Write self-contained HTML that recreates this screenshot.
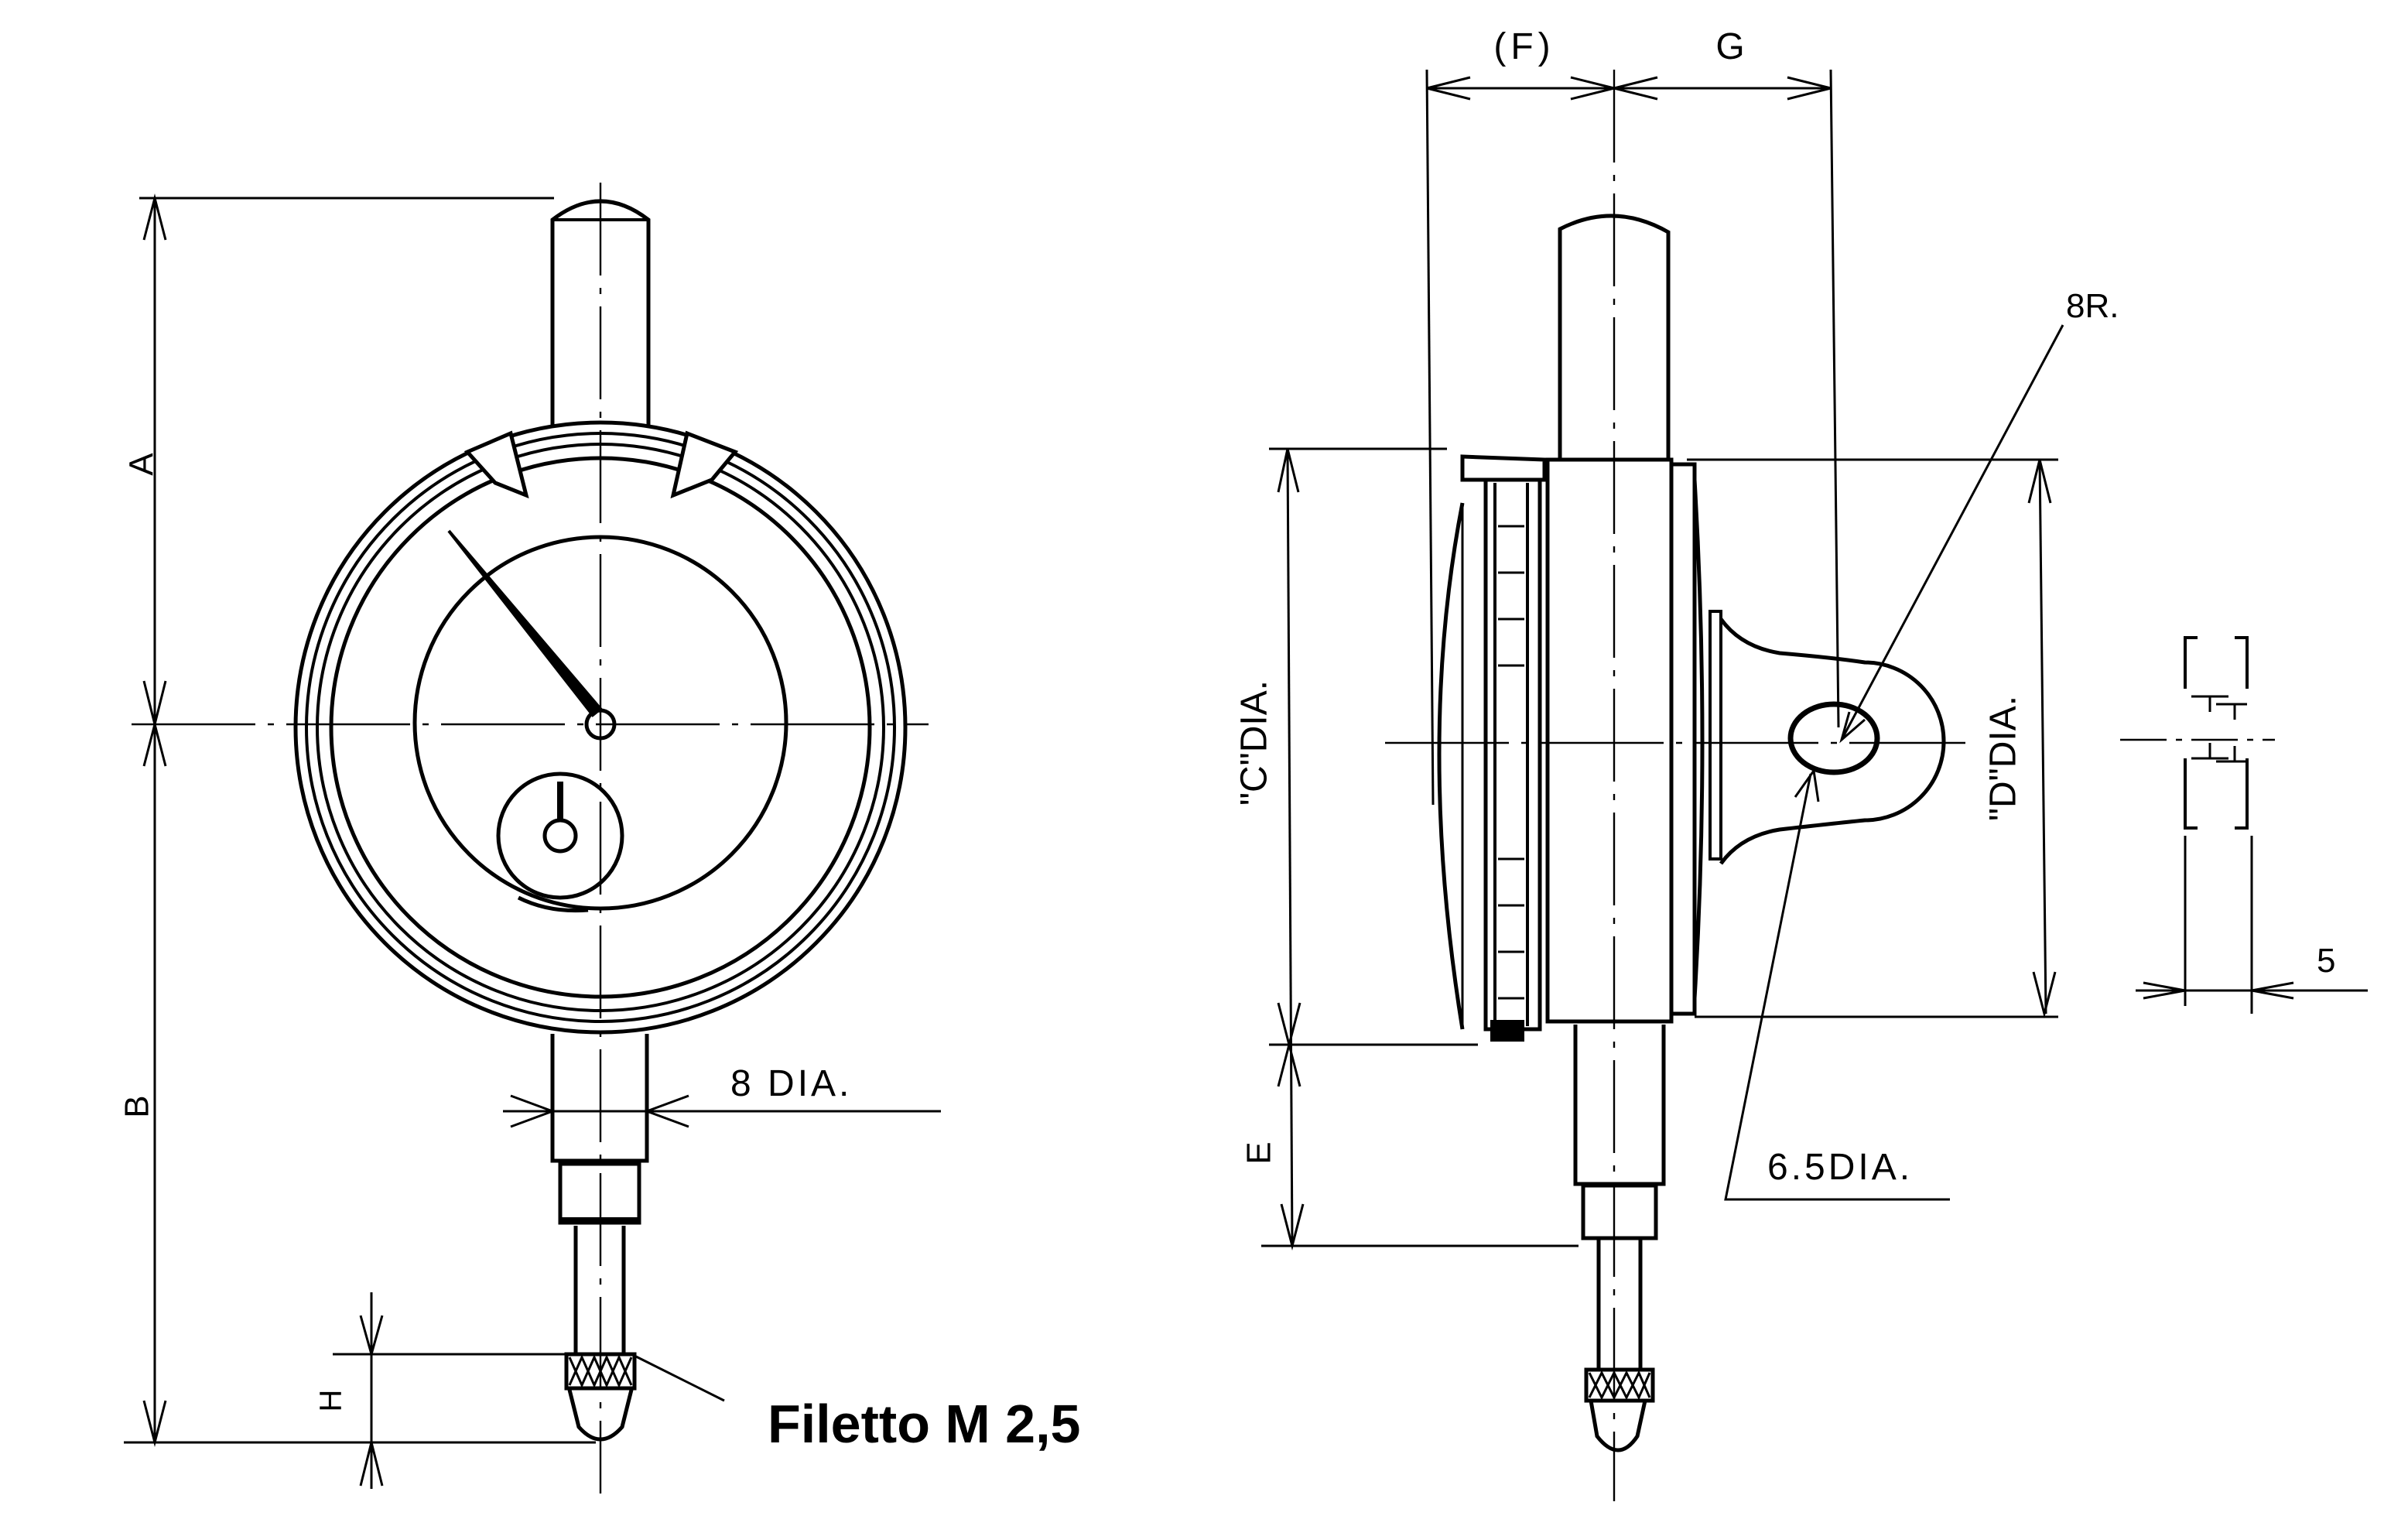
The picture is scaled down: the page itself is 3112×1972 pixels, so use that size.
<!DOCTYPE html>
<html><head><meta charset="utf-8"><style>
html,body{margin:0;padding:0;background:#fff;}
svg{display:block;}
text{font-family:"Liberation Sans",sans-serif;fill:#000;}
</style></head><body>
<svg width="3112" height="1972" viewBox="0 0 1556 986" xmlns="http://www.w3.org/2000/svg">
<g fill="none" stroke="#000" stroke-width="2">
<!-- LEFT VIEW -->
<line x1="388" y1="118" x2="388" y2="965" stroke-width="1.2" stroke-dasharray="60 8 4 8"/>
<line x1="85" y1="468" x2="600" y2="468" stroke-width="1.2" stroke-dasharray="80 8 4 8"/>
<circle cx="388" cy="470" r="197" stroke-width="2.5"/>
<circle cx="388" cy="470" r="190"/>
<circle cx="388" cy="470" r="183"/>
<circle cx="388" cy="470" r="174" stroke-width="2.5"/>
<circle cx="388" cy="467" r="120" stroke-width="2.5"/>
<circle cx="362" cy="540" r="40" stroke-width="2.5"/>
<circle cx="362" cy="540" r="10" stroke-width="2.5"/>
<line x1="362" y1="505" x2="362" y2="530" stroke-width="4"/>
<path d="M335 580 Q355 590 380 588" stroke-width="2.5"/>
<circle cx="388" cy="468" r="9" stroke-width="2.5"/>
<path d="M290 343 L383 462 L388 458 Z" fill="#000"/>
<!-- top stem -->
<path d="M357 276 L357 142 Q388 118 419 142 L419 276" stroke-width="2.5"/>
<line x1="357" y1="142" x2="419" y2="142"/>
<!-- lugs -->
<path d="M302 292 L330 280 L340 320 L320 312 Z" fill="#fff" stroke-width="2.5"/>
<path d="M444 280 L475 292 L460 310 L435 320 Z" fill="#fff" stroke-width="2.5"/>
<!-- bottom stem -->
<path d="M357 668 L357 750 L418 750 L418 668" stroke-width="2.5"/>
<rect x="362" y="752" width="51" height="38" stroke-width="2.5"/>
<line x1="362" y1="788" x2="413" y2="788" stroke-width="3"/>
<path d="M372 792 L372 875 M403 792 L403 875" stroke-width="2.5"/>
<rect x="366" y="875" width="44" height="22" stroke-width="2.5"/>
<path d="M368 877 L376 895 L384 877 L392 895 L400 877 L408 895 M368 895 L376 877 L384 895 L392 877 L400 895 L408 877" stroke-width="1.5"/>
<path d="M368 898 L374 922 Q388 938 402 922 L408 898" stroke-width="2.5"/>
<!-- dims -->
<line x1="100" y1="128" x2="100" y2="932" stroke-width="1.5"/>
<line x1="90" y1="128" x2="358" y2="128" stroke-width="1.5"/>
<line x1="80" y1="932" x2="385" y2="932" stroke-width="1.5"/>
<path d="M93 155 L100 128 L107 155 M93 440 L100 468 L107 440 M93 495 L100 468 L107 495 M93 905 L100 932 L107 905" stroke-width="1.5"/>
<line x1="240" y1="835" x2="240" y2="962" stroke-width="1.5"/>
<line x1="215" y1="875" x2="366" y2="875" stroke-width="1.5"/>
<path d="M233 850 L240 875 L247 850 M233 960 L240 932 L247 960" stroke-width="1.5"/>
<line x1="325" y1="718" x2="608" y2="718" stroke-width="1.5"/>
<path d="M330 708 L357 718 L330 728 M445 708 L418 718 L445 728" stroke-width="1.5"/>
<line x1="410" y1="876" x2="468" y2="905" stroke-width="1.5"/>

<!-- RIGHT VIEW -->
<line x1="1043" y1="45" x2="1043" y2="970" stroke-width="1.2" stroke-dasharray="60 8 4 8"/>
<line x1="895" y1="480" x2="1270" y2="480" stroke-width="1.2" stroke-dasharray="80 8 4 8"/>
<line x1="922" y1="57" x2="1183" y2="57" stroke-width="1.5"/>
<path d="M950 50 L922 57 L950 64 M1015 50 L1043 57 L1015 64 M1071 50 L1043 57 L1071 64 M1155 50 L1183 57 L1155 64" stroke-width="1.5"/>
<line x1="922" y1="45" x2="926" y2="520" stroke-width="1.5"/>
<line x1="1183" y1="45" x2="1188" y2="470" stroke-width="1.5"/>
<path d="M1008 297 L1008 148 Q1043 130 1078 150 L1078 297" stroke-width="2.5"/>
<rect x="1000" y="297" width="80" height="363" stroke-width="2.5"/>
<path d="M1080 300 L1095 300 L1095 655 L1080 655" stroke-width="2.5"/>
<path d="M1095 310 Q1105 480 1095 645" stroke-width="2.5"/>
<path d="M1105 395 L1105 555 L1112 555 L1112 395 Z" stroke-width="2"/>
<path d="M1112 400 Q1125 418 1150 422 Q1185 425 1205 428 A48 48 0 0 1 1205 530 Q1185 532 1150 536 Q1125 540 1112 558" stroke-width="2.5"/>
<ellipse cx="1185" cy="477" rx="28" ry="22" stroke-width="3.5"/>
<!-- bezel -->
<path d="M945 295 L998 297 L998 310 L945 310 Z" stroke-width="2.5"/>
<rect x="960" y="310" width="35" height="355" stroke-width="2.5"/>
<line x1="966" y1="312" x2="966" y2="663"/>
<line x1="987" y1="312" x2="987" y2="663"/>
<path d="M968 340 L985 340 M968 370 L985 370 M968 400 L985 400 M968 430 L985 430 M968 555 L985 555 M968 585 L985 585 M968 615 L985 615 M968 645 L985 645" stroke-width="1.5"/>
<rect x="964" y="660" width="20" height="12" fill="#000"/>
<path d="M945 325 Q915 480 945 665" stroke-width="2.5"/>
<line x1="945" y1="325" x2="945" y2="665" stroke-width="1.5"/>
<!-- lower stem -->
<path d="M1018 662 L1018 765 L1075 765 L1075 662" stroke-width="2.5"/>
<rect x="1023" y="766" width="47" height="34" stroke-width="2.5"/>
<path d="M1033 800 L1033 885 M1060 800 L1060 885" stroke-width="2.5"/>
<rect x="1025" y="885" width="43" height="20" stroke-width="2.5"/>
<path d="M1027 887 L1035 903 L1043 887 L1051 903 L1059 887 L1066 903 M1027 903 L1035 887 L1043 903 L1051 887 L1059 903 L1066 887" stroke-width="1.5"/>
<path d="M1028 905 L1032 928 Q1046 946 1058 928 L1063 905" stroke-width="2.5"/>
<!-- C/E dims -->
<line x1="832" y1="290" x2="835" y2="805" stroke-width="1.5"/>
<line x1="820" y1="290" x2="935" y2="290" stroke-width="1.5"/>
<line x1="820" y1="675" x2="955" y2="675" stroke-width="1.5"/>
<line x1="815" y1="805" x2="1020" y2="805" stroke-width="1.5"/>
<path d="M826 318 L832 290 L839 318 M826 648 L833 675 L840 648 M826 702 L833 675 L840 702 M828 778 L835 805 L842 778" stroke-width="1.5"/>
<!-- D dims -->
<line x1="1318" y1="297" x2="1322" y2="655" stroke-width="1.5"/>
<line x1="1090" y1="297" x2="1330" y2="297" stroke-width="1.5"/>
<line x1="1095" y1="657" x2="1330" y2="657" stroke-width="1.5"/>
<path d="M1311 325 L1318 297 L1325 325 M1314 628 L1321 655 L1328 628" stroke-width="1.5"/>
<!-- leaders -->
<line x1="1333" y1="210" x2="1190" y2="478" stroke-width="1.5"/>
<path d="M1195 460 L1190 478 L1205 465" stroke-width="1.5"/>
<path d="M1170 500 L1115 775 L1260 775" stroke-width="1.5"/>
<path d="M1160 515 L1172 498 L1175 518" stroke-width="1.5"/>
<!-- small side figure -->
<path d="M1420 412 L1412 412 L1412 445 M1412 490 L1412 535 L1420 535 M1444 412 L1452 412 L1452 445 M1452 490 L1452 535 L1444 535" stroke-width="2"/>
<path d="M1416 450 L1440 450 M1428 450 L1428 460 M1432 455 L1452 455 M1444 455 L1444 465 M1416 490 L1440 490 M1428 480 L1428 490 M1432 492 L1452 492 M1444 482 L1444 492" stroke-width="1.5"/>
<line x1="1370" y1="478" x2="1470" y2="478" stroke-width="1.2" stroke-dasharray="30 6 4 6"/>
<line x1="1412" y1="540" x2="1412" y2="650" stroke-width="1.5"/>
<line x1="1455" y1="540" x2="1455" y2="655" stroke-width="1.5"/>
<line x1="1380" y1="640" x2="1530" y2="640" stroke-width="1.5"/>
<path d="M1385 635 L1412 640 L1385 645 M1482 635 L1455 640 L1482 645" stroke-width="1.5"/>
</g>
<g>
<text x="93" y="300" font-size="22" transform="rotate(-90 93 300)" text-anchor="middle" dominant-baseline="middle">A</text>
<text x="90" y="715" font-size="22" transform="rotate(-90 90 715)" text-anchor="middle" dominant-baseline="middle">B</text>
<text x="215" y="905" font-size="20" transform="rotate(-90 215 905)" text-anchor="middle" dominant-baseline="middle">H</text>
<text x="472" y="708" font-size="24" letter-spacing="2">8 DIA.</text>
<text x="496" y="932" font-size="35" font-weight="bold">Filetto M 2,5</text>
<text x="985" y="38" font-size="24" text-anchor="middle" letter-spacing="3">(F)</text>
<text x="1118" y="38" font-size="24" text-anchor="middle">G</text>
<text x="1335" y="205" font-size="22">8R.</text>
<text x="1142" y="762" font-size="24" letter-spacing="2">6.5DIA.</text>
<text x="1497" y="628" font-size="22">5</text>
<text x="812" y="480" font-size="24" transform="rotate(-90 812 480)" text-anchor="middle" dominant-baseline="middle">"C"DIA.</text>
<text x="1296" y="490" font-size="24" transform="rotate(-90 1296 490)" text-anchor="middle" dominant-baseline="middle">"D"DIA.</text>
<text x="815" y="745" font-size="22" transform="rotate(-90 815 745)" text-anchor="middle" dominant-baseline="middle">E</text>
</g>
</svg>
</body></html>
